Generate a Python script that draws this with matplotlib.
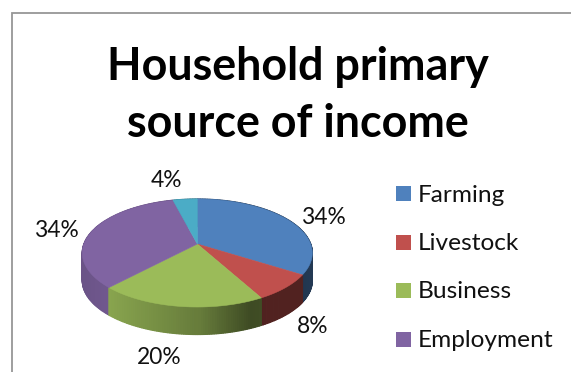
import numpy as np
import matplotlib
matplotlib.use("Agg")
import matplotlib.pyplot as plt
from matplotlib.patches import Rectangle

legend_labels = ["Farming", "Livestock", "Business", "Employment"]
shares = [34, 8, 20, 34, 4]
slice_colors = ["#4f81bd", "#c0504d", "#9bbb59", "#8064a2", "#4bacc6"]

title_lines = ["Household primary", "source of income"]
label_positions = [(324, 224), (313, 333), (159, 364), (57, 237), (166, 187)]

# Perspective pie geometry, in pixels
APEX_X, APEX_Y = 197.3, 244.0
RADIUS_X, RADIUS_Y = 113.4, 52.5
TILT = 0.1667
DEPTH = 27.5


def project(angle_deg):
    """Map clockwise-from-top angles on the pie rim to screen pixels."""
    a = np.radians(angle_deg)
    u, v = np.sin(a), -np.cos(a)
    w = 1 - TILT * v
    return APEX_X + RADIUS_X * u / w, APEX_Y + RADIUS_Y * v / w


def wall_shade(x):
    """Side-wall brightness: lit at the left, darkest just right of centre."""
    return np.interp(x, [80, 110, 200, 250, 265, 300, 315],
                     [0.83, 0.88, 0.66, 0.40, 0.42, 0.42, 0.45])


fig = plt.figure(figsize=(5.71, 3.72), dpi=100, facecolor="white")
ax = fig.add_axes([0, 0, 1, 1])
ax.set_xlim(0, 571)
ax.set_ylim(372, 0)
ax.axis("off")

# Chart frame, running off the right and bottom edges
ax.plot([11.5, 11.5, 575], [376, 12.5, 12.5], color="#969696", lw=1.3,
        solid_joinstyle="miter", zorder=1)

# Slice angular extents
edges = np.concatenate([[0], np.cumsum(shares)]) / np.sum(shares) * 360.0

# Side walls, painted back to front as thin strips
strips = []
for i, color in enumerate(slice_colors):
    rgb = np.array(matplotlib.colors.to_rgb(color))
    steps = np.linspace(edges[i], edges[i + 1], int(edges[i + 1] - edges[i]) + 2)
    for a0, a1 in zip(steps[:-1], steps[1:]):
        strips.append((a0, a1, rgb))
strips.sort(key=lambda s: -np.cos(np.radians((s[0] + s[1]) / 2)))
for a0, a1, rgb in strips:
    x0, y0 = project(a0)
    x1, y1 = project(a1)
    shade = wall_shade((x0 + x1) / 2)
    ax.fill([x0, x1, x1, x0], [y0, y1, y1 + DEPTH, y0 + DEPTH],
            color=rgb * shade, lw=0.9, zorder=2)

# Top faces
for i, color in enumerate(slice_colors):
    angles = np.linspace(edges[i], edges[i + 1], 80)
    xs, ys = project(angles)
    ax.fill(np.r_[APEX_X, xs], np.r_[APEX_Y, ys], color=color, lw=0.4, zorder=3)

# Percentage labels
for share, (lx, ly) in zip(shares, label_positions):
    ax.text(lx, ly, f"{share}%", fontsize=16.4, family="Lato", color="#111111",
            ha="center", va="baseline", zorder=5)

# Title
for line, baseline in zip(title_lines, [80, 137]):
    ax.text(297.5, baseline, line, fontsize=32.3, family="Lato", fontweight="bold",
            color="black", ha="center", va="baseline", zorder=5)

# Legend
for name, color, yc, base in zip(legend_labels, slice_colors, [193, 242, 290, 339], [202, 250, 298, 347]):
    ax.add_patch(Rectangle((396, yc - 7.5), 15, 15, facecolor=color, edgecolor="none", zorder=4))
    ax.text(418, base, name, fontsize=17.6, family="Lato", color="#111111",
            ha="left", va="baseline", zorder=5)

fig.savefig("out.png", dpi=100, facecolor="white")
